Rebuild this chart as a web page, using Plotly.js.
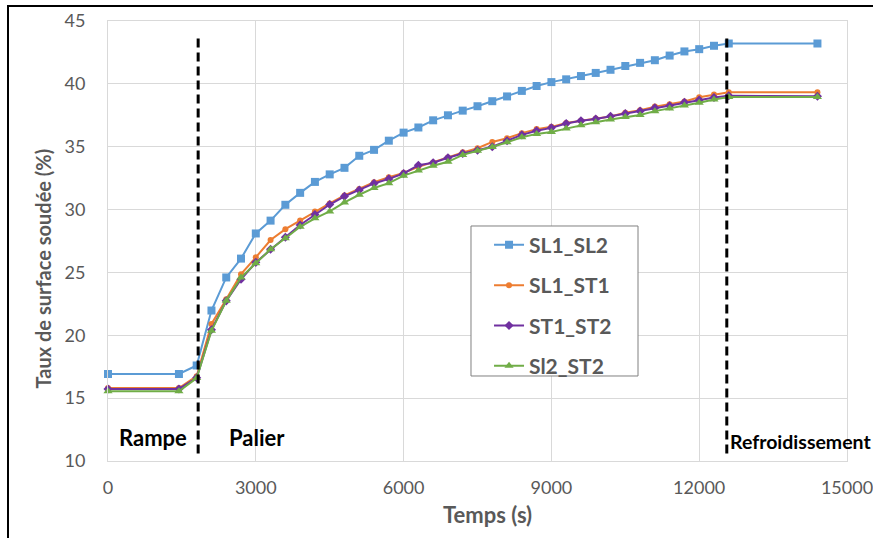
<!DOCTYPE html>
<html>
<head>
<meta charset="utf-8">
<script src="https://cdn.plot.ly/plotly-3.0.1.min.js"></script>
<style>
html,body{margin:0;padding:0;background:#fff;overflow:hidden;}
#wrap{position:relative;width:873px;height:538px;}
#chart{position:absolute;left:0;top:0;width:873px;height:538px;}
#frame{position:absolute;left:7px;top:5px;width:1000px;height:1000px;border:2px solid #000;pointer-events:none;z-index:10;}
</style>
</head>
<body>
<div id="wrap"><div id="chart"></div><div id="frame"></div></div>
<script>
const seriesNames = ["SL1_SL2", "SL1_ST1", "ST1_ST2", "Sl2_ST2"];
const time = [0, 1440, 1800, 2100, 2400, 2700, 3000, 3300, 3600, 3900, 4200, 4500, 4800, 5100, 5400, 5700,
  6000, 6300, 6600, 6900, 7200, 7500, 7800, 8100, 8400, 8700, 9000, 9300, 9600, 9900, 10200, 10500,
  10800, 11100, 11400, 11700, 12000, 12300, 12600, 14400];
const sl1_sl2 = [16.92, 16.92, 17.6, 21.97, 24.6, 26.1, 28.1, 29.12, 30.38, 31.33, 32.2, 32.8, 33.32, 34.28, 34.75, 35.48,
  36.12, 36.53, 37.1, 37.5, 37.87, 38.22, 38.62, 39.0, 39.44, 39.83, 40.14, 40.36, 40.62, 40.87, 41.12, 41.42,
  41.67, 41.88, 42.25, 42.58, 42.76, 43.03, 43.21, 43.21];
const sl1_st1 = [15.81, 15.81, 16.75, 20.9, 22.87, 24.86, 26.2, 27.58, 28.44, 29.13, 29.85, 30.49, 31.12, 31.64, 32.18, 32.57,
  32.92, 33.4, 33.75, 34.15, 34.55, 34.88, 35.38, 35.68, 36.08, 36.4, 36.58, 36.89, 37.07, 37.25, 37.4, 37.7,
  37.9, 38.19, 38.37, 38.6, 38.93, 39.15, 39.33, 39.33];
const st1_st2 = [15.73, 15.73, 16.62, 20.44, 22.74, 24.46, 25.8, 26.84, 27.8, 28.77, 29.6, 30.4, 31.05, 31.55, 32.08, 32.44,
  32.87, 33.53, 33.72, 34.12, 34.46, 34.72, 35.0, 35.47, 35.94, 36.27, 36.5, 36.84, 37.07, 37.2, 37.42, 37.63,
  37.83, 38.09, 38.25, 38.53, 38.72, 38.92, 39.05, 39.02];
const sl2_st2 = [15.54, 15.54, 16.6, 20.36, 22.74, 24.59, 25.73, 26.84, 27.72, 28.63, 29.3, 29.85, 30.57, 31.18, 31.72, 32.1,
  32.7, 33.1, 33.48, 33.8, 34.35, 34.68, 34.98, 35.35, 35.75, 36.02, 36.17, 36.44, 36.71, 36.95, 37.17, 37.37,
  37.53, 37.83, 38.04, 38.27, 38.5, 38.75, 38.95, 38.95];
const xTickVals = [0, 3000, 6000, 9000, 12000, 15000];
const xTickText = ["0", "3000", "6000", "9000", "12000", "15000"];
const yTickVals = [10, 15, 20, 25, 30, 35, 40, 45];
const xTitle = "Temps (s)";
const yTitle = "Taux de surface soudée (%)";
const phaseLabels = ["Rampe", "Palier", "Refroidissement"];
const phaseBounds = [1830, 12560];

const colors = ["#5B9BD5", "#ED7D31", "#7030A0", "#70AD47"];
const symbols = ["square", "circle", "diamond", "triangle-up"];
const sizes = [8, 6, 7, 8];
const values = [sl1_sl2, sl1_st1, st1_st2, sl2_st2];

const FONT = "Lato, 'Open Sans', sans-serif";
const GREY = "#595959";
const traces = seriesNames.map((n, i) => ({
  x: time, y: values[i], name: n, type: "scatter", mode: "lines+markers",
  legendgroup: "g" + i,
  line: {color: colors[i], width: 2},
  marker: {color: colors[i], symbol: symbols[i], size: sizes[i]},
  cliponaxis: false
}));

const shapes = [
  {type: "rect", xref: "paper", yref: "paper", x0: 0.4912, x1: 0.7172, y0: 0.1932, y1: 0.5341,
   fillcolor: "#fff", line: {color: "#808080", width: 1}, layer: "above"}
];
phaseBounds.forEach(b => shapes.push({type: "line", xref: "x", yref: "y", x0: b, x1: b, y0: 10.6, y1: 43.7,
  line: {color: "#000", width: 3, dash: "9px,5px"}}));

const layout = {
  width: 873, height: 538,
  margin: {l: 108, r: 26, t: 21, b: 77},
  paper_bgcolor: "#fff", plot_bgcolor: "#fff",
  font: {family: FONT, color: GREY},
  showlegend: true,
  legend: {x: 0.5156, y: 0.537, xanchor: "left", yanchor: "top", bgcolor: "rgba(0,0,0,0)",
    borderwidth: 0, tracegroupgap: 10, itemwidth: 30,
    font: {family: FONT, size: 21, color: GREY, weight: "bold"}},
  xaxis: {range: [0, 15000], tickvals: xTickVals, ticktext: xTickText,
    showgrid: true, gridcolor: "#D9D9D9", gridwidth: 1, zeroline: false,
    showline: true, mirror: true, linecolor: "#D9D9D9", linewidth: 1, ticks: "",
    ticklabelstandoff: 10, ticklabeloverflow: "allow", tickfont: {family: FONT, size: 18, color: GREY},
    automargin: false},
  yaxis: {range: [10, 45], tickvals: yTickVals,
    showgrid: true, gridcolor: "#D9D9D9", gridwidth: 1, zeroline: false,
    showline: true, mirror: true, linecolor: "#D9D9D9", linewidth: 1, ticks: "",
    ticklabelstandoff: 18, ticklabeloverflow: "allow", tickfont: {family: FONT, size: 18, color: GREY},
    automargin: false},
  shapes: shapes,
  annotations: [
    {x: 487, y: 514, xref: "paper", yref: "paper", text: xTitle, showarrow: false, xanchor: "center", yanchor: "middle",
     font: {family: FONT, size: 22, color: GREY, weight: "bold"}},
    {x: 42.5, y: 269, xref: "paper", yref: "paper", text: yTitle, showarrow: false, textangle: -90,
     xanchor: "center", yanchor: "middle",
     font: {family: FONT, size: 20, color: GREY, weight: "bold"}},
    {x: 905, y: 11.84, xref: "x", yref: "y", text: phaseLabels[0], showarrow: false,
     font: {family: FONT, size: 22, color: "#000", weight: "bold"}},
    {x: 3020, y: 11.84, xref: "x", yref: "y", text: phaseLabels[1], showarrow: false,
     font: {family: FONT, size: 22, color: "#000", weight: "bold"}},
    {x: 12590, y: 11.57, xref: "x", yref: "y", xanchor: "left", text: phaseLabels[2], showarrow: false,
     font: {family: FONT, size: 19.5, color: "#000", weight: "bold"}}
  ]
};
// convert pixel positions of the axis-title annotations into paper fractions
const pw = 873 - 108 - 26, ph = 538 - 21 - 77;
layout.annotations[0].x = (487 - 108) / pw; layout.annotations[0].y = 1 - (514 - 21) / ph;
layout.annotations[1].x = (42.5 - 108) / pw; layout.annotations[1].y = 1 - (269 - 21) / ph;
Plotly.newPlot("chart", traces, layout, {displayModeBar: false, staticPlot: true});
</script>
</body>
</html>
